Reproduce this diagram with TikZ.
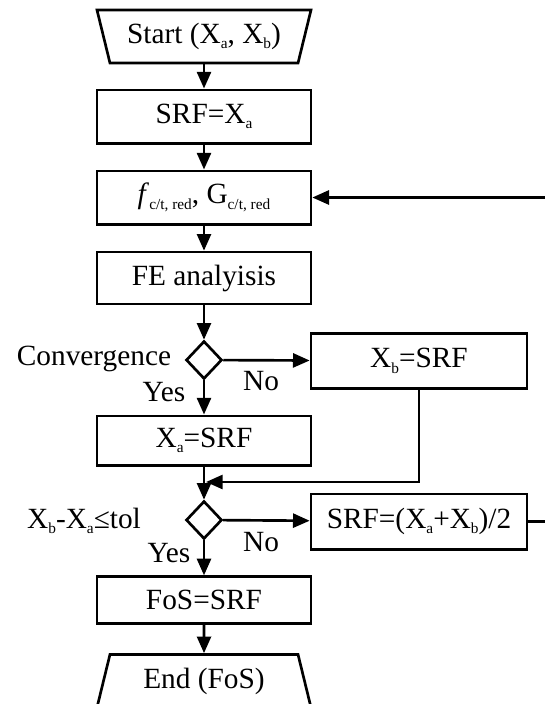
\documentclass[tikz,border=0pt]{standalone}
\usepackage{fontspec}
\setmainfont{Liberation Serif}
\usetikzlibrary{arrows.meta,shapes.geometric}

\newcommand{\lo}[1]{\raisebox{-0.4ex}{\fontsize{11.5}{11.5}\selectfont #1}}

\tikzset{
  blk/.style={draw,line width=2pt,rectangle,minimum width=160.5pt,minimum height=39pt,inner sep=0pt},
  sideblk/.style={blk,minimum width=162pt,minimum height=41.5pt},
  term/.style={draw,line width=2pt,trapezium,trapezium left angle=64,trapezium right angle=64,
    trapezium stretches body,minimum width=160.5pt,minimum height=39.75pt,inner sep=0pt},
  test/.style={draw,line width=2pt,diamond,minimum width=27pt,minimum height=28.5pt,inner sep=0pt},
  lbl/.style={inner sep=0pt},
  flow/.style={line width=2pt,-{Triangle[length=12.5pt,width=10.5pt]}}
}

\begin{document}
\begin{tikzpicture}[x=0.75pt,y=0.75pt,yscale=-1,xscale=1,font=\fontsize{22}{26}\selectfont]
\useasboundingbox (0,0) rectangle (545,704);
\clip (0,0) rectangle (545,704);

%Shape: Trapezoid
\node[term,shape border rotate=180] (start) at (204,36.5) {Start (X\lo{a}, X\lo{b})};
%Shape: Rectangle
\node[blk,minimum height=40pt] (srfa) at (204,116.5) {SRF=X\lo{a}};
\node[blk,minimum height=40pt] (red) at (204,197.5) {\textit{f}\lo{c/t, red}, G\lo{c/t, red}};
\node[blk] (fe) at (204,278) {FE analyisis};
%Shape: Diamond
\node[test] (conv) at (204,360) {};
\node[sideblk] (xb) at (419,361) {X\lo{b}=SRF};
\node[blk,minimum height=37pt] (xa) at (204,440.5) {X\lo{a}=SRF};
\node[test] (tol) at (204,520) {};
\node[sideblk] (mid) at (419,521.5) {SRF=(X\lo{a}+X\lo{b})/2};
\node[blk,minimum height=35pt] (fos) at (204,600) {FoS=SRF};
\node[term] (end) at (204,681) {End (FoS)};

% Text Node
\node[lbl] (convtxt) at (94,359) {Convergence};
\node[lbl] (yes1) at (164,392) {Yes};
\node[lbl] (no1) at (261,381) {No};
\node[lbl] (toltxt) at (84,521) {X\lo{b}-X\lo{a}≤tol};
\node[lbl] (yes2) at (169,553) {Yes};
\node[lbl] (no2) at (261,542) {No};

%Straight Lines
\coordinate (merge) at (204,482);
\coordinate (loop) at (570,521.5);
\draw[flow] (start) -- (srfa);
\draw[flow] (srfa) -- (red);
\draw[flow] (red) -- (fe);
\draw[flow] (fe) -- (conv);
\draw[flow] (conv) -- (xb);
\draw[flow] (conv) -- (xa);
\draw[flow] (xa) -- (tol);
\draw[flow] (xb.south) |- ([xshift=1.5pt]merge);
\draw[flow] (tol) -- (mid);
\draw[flow] (tol) -- (fos);
\draw[flow] (fos) -- (end);
\draw[flow] (mid.east) -- (loop) |- (red.east);

\end{tikzpicture}
\end{document}
